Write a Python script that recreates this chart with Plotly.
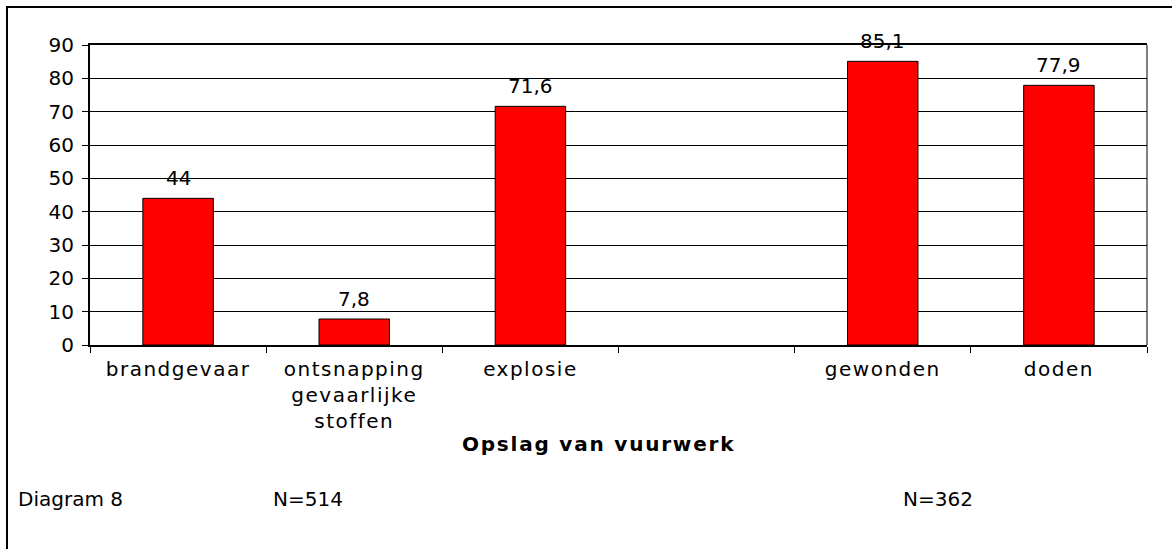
import plotly.graph_objects as go

categories = ["brandgevaar", "ontsnapping<br>gevaarlijke<br>stoffen", "explosie", " ", "gewonden", "doden"]
values = [44, 7.8, 71.6, None, 85.1, 77.9]
value_labels = ["44", "7,8", "71,6", "", "85,1", "77,9"]
y_ticks = [0, 10, 20, 30, 40, 50, 60, 70, 80, 90]
axis_title = "Opslag van vuurwerk"
footer_texts = ["Diagram 8", "N=514", "N=362"]

FONT = "DejaVu Sans, Verdana, sans-serif"
FS = 20
W, H = 1172, 549
L, R, T, B = 90, 25, 45, 204
pw, ph = W - L - R, H - T - B

def px_x(px):
    return (px - L) / pw

def px_y(py):
    return (H - B - py) / ph

fig = go.Figure()
fig.add_trace(go.Bar(
    x=categories, y=values,
    marker=dict(color="#FF0000", line=dict(color="black", width=1)),
    hoverinfo="skip",
))

annotations = []
for c, v, t in zip(categories, values, value_labels):
    if v is None:
        continue
    annotations.append(dict(x=c, y=v, xref="x", yref="y", text=t, showarrow=False,
                            yanchor="bottom", yshift=6,
                            font=dict(family=FONT, size=FS, color="black")))

annotations.append(dict(x=px_x(599), y=px_y(444), xref="paper", yref="paper", text="<b>" + axis_title + "</b>",
                        showarrow=False, xanchor="center", yanchor="middle",
                        font=dict(family=FONT, size=FS, color="black")))
for txt, xp in zip(footer_texts, [16, 271, 901]):
    annotations.append(dict(x=px_x(xp), y=px_y(499), xref="paper", yref="paper", text=txt,
                            showarrow=False, xanchor="left", yanchor="middle",
                            font=dict(family=FONT, size=FS, color="black")))

shapes = [
    dict(type="rect", xref="paper", yref="paper", x0=px_x(7), y0=px_y(560), x1=px_x(1180), y1=px_y(7),
         line=dict(color="black", width=2), layer="below"),
    dict(type="line", xref="paper", yref="paper", x0=1, x1=1, y0=0, y1=1,
         line=dict(color="black", width=1)),
]

fig.update_layout(
    width=W, height=H,
    margin=dict(l=L, r=R, t=T, b=B, pad=0),
    paper_bgcolor="white", plot_bgcolor="white",
    bargap=0.6,
    showlegend=False,
    annotations=annotations,
    shapes=shapes,
    font=dict(family=FONT, size=FS, color="black"),
    separators=",.",
)
fig.update_xaxes(
    type="category", tickson="boundaries", ticks="outside", ticklen=6, tickwidth=1, tickcolor="black",
    showline=True, linecolor="black", linewidth=2, mirror=True, showgrid=False,
    ticklabelstandoff=5,
    tickfont=dict(family=FONT, size=FS, color="black"),
)
fig.update_yaxes(
    range=[0, 90], tickvals=y_ticks, ticks="outside", ticklen=6, tickwidth=1, tickcolor="black",
    showline=True, linecolor="black", linewidth=2, showgrid=True, gridcolor="black", gridwidth=1,
    zeroline=False, ticklabelstandoff=4,
    tickfont=dict(family=FONT, size=FS, color="black"),
)

post = """
document.body.style.margin = '0';
var gd = document.getElementById('{plot_id}');
gd.querySelectorAll('.xtick text').forEach(function(t){ t.setAttribute('letter-spacing', '1.5px'); });
gd.querySelectorAll('.annotation-text').forEach(function(t){
  if (t.textContent.indexOf('%s') >= 0) { t.setAttribute('letter-spacing', '1.8px'); }
});
""" % axis_title

fig.write_html("out.html", post_script=post, config={"displayModeBar": False, "staticPlot": True})
